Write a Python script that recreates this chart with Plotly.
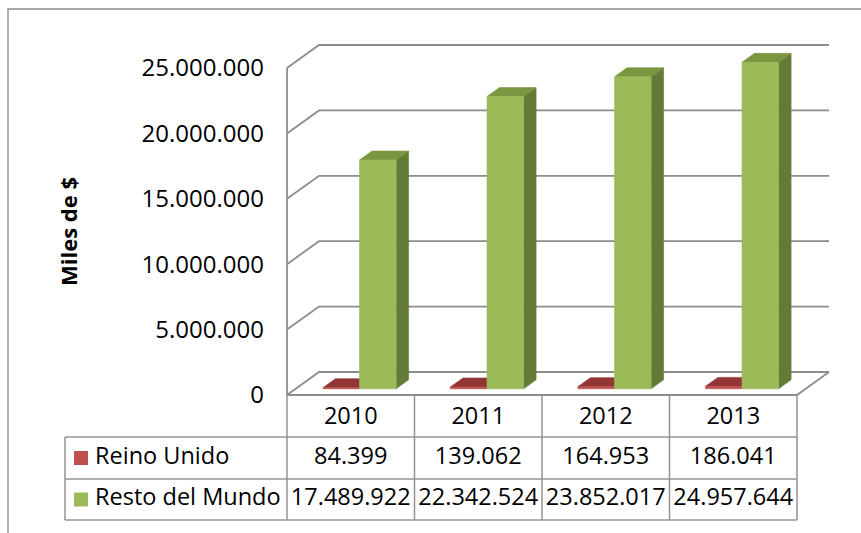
import plotly.graph_objects as go

# ---------------- data ----------------
years = ["2010", "2011", "2012", "2013"]
series_names = ["Reino Unido", "Resto del Mundo"]
reino_unido = [84399, 139062, 164953, 186041]
resto_mundo = [17489922, 22342524, 23852017, 24957644]
y_ticks = [0, 5000000, 10000000, 15000000, 20000000, 25000000]
axis_title = "Miles de $"

# ---------------- styling / geometry ----------------
W, H = 861, 533
FONT = "Open Sans"
FS = 23.5
GRID = "#8C8C8C"
TABLE_LINE = "#939393"
COLORS = {
    "Reino Unido": dict(front="#C0504D", top="#913634", side="#7A2D2B", key="#C0504D"),
    "Resto del Mundo": dict(front="#9BBB59", top="#7A9640", side="#647B37", key="#9BBB59"),
}

X0_PX = 287.0        # front-left corner of the floor (px)
CAT_PX = 127.5       # width of one category (px)
Y0_PX = 395.0        # value 0 on the front plane (px)
PX_PER_UNIT = 13.08e-6
DEPTH_DX = 32.0      # oblique depth offset (px)
DEPTH_DY = 23.0
BAR_F0, BAR_F1 = 0.27, 0.66   # bar front/back depth fractions
BAR_START, BAR_W = 0.214, 0.287

TABLE_LEFT_PX = 65
ROW_LINES_PX = [437, 479, 520]
YEAR_ROW_CENTER_PX = 418
ROW_CENTERS_PX = [458, 499.5]
KEY_X_PX = 81
LABEL_X_PX = 95


def px_to_x(px):
    return (px - X0_PX) / CAT_PX


def px_to_y(py):
    return (Y0_PX - py) / PX_PER_UNIT


def P(x, v, f):
    """category coord x, value v, depth fraction f -> axis data coords"""
    return x + f * DEPTH_DX / CAT_PX, v + f * DEPTH_DY / PX_PER_UNIT


def poly(points):
    xs = [p[0] for p in points] + [points[0][0]]
    ys = [p[1] for p in points] + [points[0][1]]
    return xs, ys


fig = go.Figure()
n = len(years)


def add_lines(segments, color, width):
    xs, ys = [], []
    for seg in segments:
        for p in seg:
            xs.append(p[0]); ys.append(p[1])
        xs.append(None); ys.append(None)
    fig.add_trace(go.Scatter(x=xs, y=ys, mode="lines", line=dict(color=color, width=width),
                             hoverinfo="skip", showlegend=False))


# ---------------- walls / grid ----------------
segs = []
segs.append([P(0, 0, 0), P(0, y_ticks[-1], 0)])          # front-left edge
for t in y_ticks:
    segs.append([P(0, t, 0), P(0, t, 1), P(n, t, 1)])      # side diagonal + back gridline
# floor
segs.append([P(0, 0, 0), P(n, 0, 0), P(n, 0, 1)])
add_lines(segs, GRID, 1.8)

# ---------------- bars ----------------
for s_idx, (name, vals) in enumerate(zip(series_names, [reino_unido, resto_mundo])):
    c = COLORS[name]
    faces = {"front": ([], []), "top": ([], []), "side": ([], [])}
    for i, v in enumerate(vals):
        x0 = i + BAR_START + s_idx * BAR_W
        x1 = x0 + BAR_W
        front = [P(x0, 0, BAR_F0), P(x1, 0, BAR_F0), P(x1, v, BAR_F0), P(x0, v, BAR_F0)]
        top = [P(x0, v, BAR_F0), P(x1, v, BAR_F0), P(x1, v, BAR_F1), P(x0, v, BAR_F1)]
        side = [P(x1, 0, BAR_F0), P(x1, 0, BAR_F1), P(x1, v, BAR_F1), P(x1, v, BAR_F0)]
        for key, pts in (("side", side), ("top", top), ("front", front)):
            xs, ys = poly(pts)
            faces[key][0].extend(xs + [None])
            faces[key][1].extend(ys + [None])
    for key in ("side", "top", "front"):
        fig.add_trace(go.Scatter(x=faces[key][0], y=faces[key][1], mode="lines", fill="toself",
                                 fillcolor=c[key], line=dict(width=0.6, color=c[key]),
                                 hoverinfo="skip", showlegend=False))

# ---------------- data table ----------------
tl = []
y_front0 = P(0, 0, 0)[1]
y_bottom = px_to_y(ROW_LINES_PX[-1])
for i in range(n + 1):
    tl.append([(i, y_front0), (i, y_bottom)])
for r_px in ROW_LINES_PX:
    tl.append([(px_to_x(TABLE_LEFT_PX), px_to_y(r_px)), (n, px_to_y(r_px))])
tl.append([(px_to_x(TABLE_LEFT_PX), px_to_y(ROW_LINES_PX[0])), (px_to_x(TABLE_LEFT_PX), y_bottom)])
add_lines(tl, TABLE_LINE, 1.5)

centers = [i + 0.5 for i in range(n)]
fig.add_trace(go.Scatter(x=centers, y=[px_to_y(YEAR_ROW_CENTER_PX)] * n, mode="text", text=years,
                         textfont=dict(family=FONT, size=FS, color="black"),
                         hoverinfo="skip", showlegend=False))


def fmt(v):
    return f"{v:,}".replace(",", ".")


for name, vals, cy in zip(series_names, [reino_unido, resto_mundo], ROW_CENTERS_PX):
    fig.add_trace(go.Scatter(x=centers, y=[px_to_y(cy)] * n, mode="text", text=[fmt(v) for v in vals],
                             textfont=dict(family=FONT, size=FS, color="black"),
                             hoverinfo="skip", showlegend=False))
    fig.add_trace(go.Scatter(x=[px_to_x(KEY_X_PX)], y=[px_to_y(cy)], mode="markers",
                             marker=dict(symbol="square", size=14, color=COLORS[name]["key"]),
                             hoverinfo="skip", showlegend=False))
    fig.add_trace(go.Scatter(x=[px_to_x(LABEL_X_PX)], y=[px_to_y(cy)], mode="text", text=[name],
                             textposition="middle right",
                             textfont=dict(family=FONT, size=FS, color="black"),
                             hoverinfo="skip", showlegend=False))

# ---------------- layout ----------------
fig.update_layout(
    width=W, height=H, autosize=False,
    margin=dict(l=0, r=0, t=0, b=0, pad=0),
    paper_bgcolor="white", plot_bgcolor="white",
    separators=",.",
    font=dict(family=FONT, size=FS, color="black"),
    xaxis=dict(range=[px_to_x(0), px_to_x(W)], visible=False, fixedrange=True),
    yaxis=dict(range=[px_to_y(H), px_to_y(0)], tickvals=y_ticks, tickformat=",d",
               showgrid=False, zeroline=False, showline=False, ticks="",
               anchor="free", position=X0_PX / W, ticklabelstandoff=23, automargin=False,
               tickfont=dict(family=FONT, size=24, color="black"), fixedrange=True),
    shapes=[dict(type="rect", xref="paper", yref="paper",
                 x0=8 / W, x1=1.05, y0=-0.05, y1=1 - 9 / H,
                 line=dict(color="#8C8C8C", width=1.3), layer="below")],
    annotations=[dict(text="<b>" + axis_title + "</b>", xref="paper", yref="paper",
                      x=68 / W, y=1 - 232 / H, textangle=-90, showarrow=False,
                      font=dict(family=FONT, size=22, color="black"),
                      xanchor="center", yanchor="middle")],
)

fig.write_html("out.html")
